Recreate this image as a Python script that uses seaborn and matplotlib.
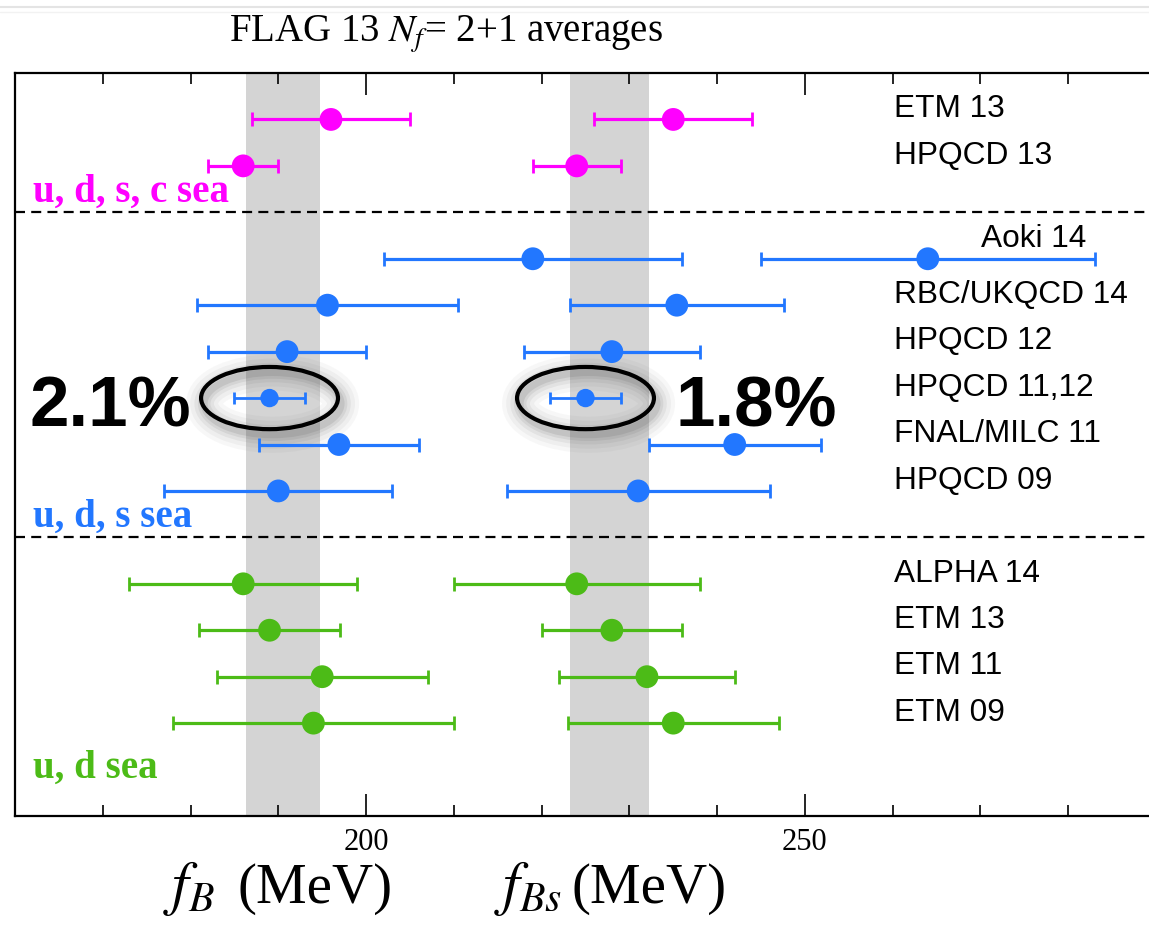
import numpy as np
import pandas as pd
import matplotlib
matplotlib.use("Agg")
import matplotlib.pyplot as plt
import seaborn as sns
from matplotlib.patches import Ellipse
from matplotlib.lines import Line2D

# ---------------- data ----------------
collabs = ["ETM 13", "HPQCD 13",
           "Aoki 14", "RBC/UKQCD 14", "HPQCD 12", "HPQCD 11,12", "FNAL/MILC 11", "HPQCD 09",
           "ALPHA 14", "ETM 13", "ETM 11", "ETM 09"]
groups = ["2+1+1", "2+1+1",
          "2+1", "2+1", "2+1", "2+1", "2+1", "2+1",
          "2", "2", "2", "2"]
fB = [196, 186, 219, 195.6, 191, 189, 196.9, 190, 186, 189, 195, 194]
fB_err = [9, 4, 17, 14.9, 9, 4, 9.1, 13, 13, 8, 12, 16]
fBs = [235, 224, 264, 235.4, 228, 225, 242, 231, 224, 228, 232, 235]
fBs_err = [9, 5, 19, 12.2, 10, 4.1, 9.8, 15, 14, 8, 10, 12]
highlight = ["HPQCD 11,12"]
avg_fB, avg_fB_err = 190.5, 4.2
avg_fBs, avg_fBs_err = 227.7, 4.5
sea_labels = {"2+1+1": "u, d, s, c sea", "2+1": "u, d, s sea", "2": "u, d sea"}
pct_labels = ["2.1%", "1.8%"]
group_order = ["2+1+1", "2+1", "2"]
palette = {"2+1+1": "#FF00FF", "2+1": "#2277FF", "2": "#4CBB17"}
tick_labels = ["200", "250"]

# ---------------- layout of rows ----------------
rows = []
r = 0
prev = None
separators = []
for g in groups:
    if prev is not None and g != prev:
        r += 1
        separators.append(r)
    r += 1
    rows.append(r)
    prev = g

df = pd.DataFrame({"collab": collabs, "group": groups, "row": rows,
                   "fB": fB, "fB_err": fB_err, "fBs": fBs, "fBs_err": fBs_err})
df["msize"] = np.where(df["collab"].isin(highlight) & (df["group"] == "2+1"), "small", "normal")
long = pd.concat([
    df.assign(val=df["fB"], err=df["fB_err"]),
    df.assign(val=df["fBs"], err=df["fBs_err"]),
], ignore_index=True)

# ---------------- figure ----------------
sns.set_theme(style="white")
plt.rcParams["font.family"] = ["Liberation Serif", "DejaVu Serif"]
plt.rcParams["mathtext.fontset"] = "stix"
plt.rcParams["text.color"] = "black"
plt.rcParams["axes.labelcolor"] = "black"
plt.rcParams["xtick.color"] = "black"
plt.rcParams["xtick.labelcolor"] = "black"

fig = plt.figure(figsize=(11.49, 9.25), dpi=100)
ax = fig.add_axes([15 / 1149, 109 / 925, 1141 / 1149, 743 / 925])
ax.set_xlim(160, 290)
ax.set_ylim(16, 0)

# average bands
ax.axvspan(avg_fB - avg_fB_err, avg_fB + avg_fB_err, color="#d4d4d4", lw=0, zorder=0)
ax.axvspan(avg_fBs - avg_fBs_err, avg_fBs + avg_fBs_err, color="#d4d4d4", lw=0, zorder=0)

# separators
for s in separators:
    ax.axhline(s, color="black", lw=1.6, ls=(0, (4.5, 2.8)), zorder=1)

# ellipses with soft shadow around the highlighted results
hl = df[df["collab"].isin(highlight) & (df["group"] == "2+1")].iloc[0]
for cx in (hl["fB"], hl["fBs"]):
    for lw, a in [(26, 0.04), (20, 0.05), (14, 0.07), (9, 0.09), (5, 0.12)]:
        ax.add_patch(Ellipse((cx + 0.35, hl["row"] + 0.12), 15.6, 1.34, fill=False,
                             ec="#4a4a4a", lw=lw, alpha=a, zorder=1.5))
    ax.add_patch(Ellipse((cx, hl["row"]), 15.6, 1.34, fill=False, ec="black", lw=3.0, zorder=4))

# error bars
for g in group_order:
    sub = long[long["group"] == g]
    for sz, cs, lw in [("normal", 5, 2.3), ("small", 4.5, 2.0)]:
        ss = sub[sub["msize"] == sz]
        if len(ss):
            ax.errorbar(ss["val"], ss["row"], xerr=ss["err"], fmt="none", ecolor=palette[g],
                        elinewidth=lw, capsize=cs, capthick=2.0, zorder=3)

# markers
sns.scatterplot(data=long, x="val", y="row", hue="group", palette=palette,
                size="msize", sizes={"normal": 270, "small": 175},
                edgecolor="none", legend=False, ax=ax, zorder=5)

# collaboration labels
sans = ["Liberation Sans", "DejaVu Sans"]
for _, rr in df.iterrows():
    if rr["collab"] == "Aoki 14":
        ax.text(282.0, rr["row"] - 0.43, rr["collab"], ha="right", va="center",
                fontsize=22.8, family=sans, color="black")
    else:
        ax.text(260.1, rr["row"] - 0.22, rr["collab"], ha="left", va="center",
                fontsize=22.8, family=sans, color="black")

# sea labels
sea_rows = {"2+1+1": 2.77, "2+1": 9.78, "2": 15.18}
for g in group_order:
    ax.text(162.0, sea_rows[g], sea_labels[g], ha="left", va="baseline",
            fontsize=28, fontweight="bold", color=palette[g], family=["Liberation Serif"])

# precision labels
ax.text(161.6, 7.62, pct_labels[0], ha="left", va="baseline", fontsize=51,
        fontweight="bold", family=sans, color="black")
ax.text(235.2, 7.62, pct_labels[1], ha="left", va="baseline", fontsize=51,
        fontweight="bold", family=sans, color="black")

# axes styling
ax.set_xticks([200, 250])
ax.set_xticklabels(tick_labels, fontsize=22, family=["Liberation Serif"], color="black")
ax.set_xticks([x for x in range(170, 290, 10) if x not in (200, 250)], minor=True)
ax.set_yticks([])
ax.tick_params(axis="x", which="both", direction="in", top=True, bottom=True,
               color="black", width=1.2)
ax.tick_params(axis="x", which="major", length=16, pad=9)
ax.tick_params(axis="x", which="minor", length=8)
ax.set_xlabel("")
ax.set_ylabel("")
for side in ["left", "top", "bottom", "right"]:
    ax.spines[side].set_color("black")
    ax.spines[side].set_linewidth(1.6)
    ax.spines[side].set_visible(True)

# title
fig.text(446 / 1149, 1 - 42 / 925, r"FLAG 13 $N_f$= 2+1 averages", ha="center",
         va="baseline", fontsize=28, family=["Liberation Serif"], color="black")

# axis labels
lab_y = 22 / 925
fig.text(163 / 1149, lab_y, r"$f_B$", ha="left", va="baseline", fontsize=43, color="black")
fig.text(238 / 1149, lab_y, "(MeV)", ha="left", va="baseline", fontsize=41,
         family=["Liberation Serif"], color="black")
fig.text(494 / 1149, lab_y, r"$f_{Bs}$", ha="left", va="baseline", fontsize=43, color="black")
fig.text(572 / 1149, lab_y, "(MeV)", ha="left", va="baseline", fontsize=41,
         family=["Liberation Serif"], color="black")

# faint frame lines at the top of the screenshot
fig.add_artist(Line2D([0, 1], [1 - 7 / 925, 1 - 7 / 925], color="#e4e4e4", lw=1.5))
fig.add_artist(Line2D([0, 1], [1 - 12 / 925, 1 - 12 / 925], color="#f2f2f2", lw=1.0))

fig.savefig("out.png", dpi=100)
